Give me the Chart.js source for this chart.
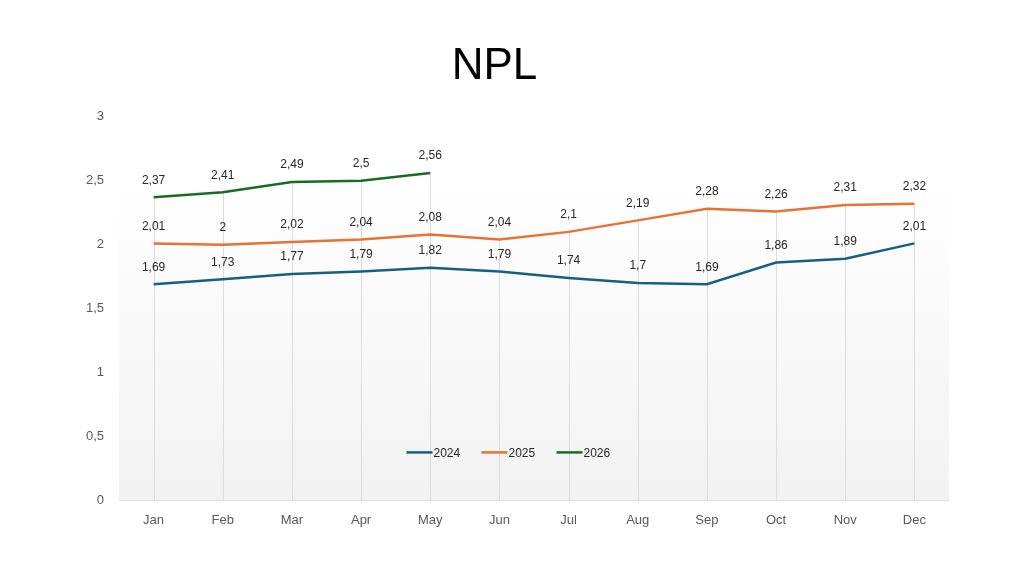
<!DOCTYPE html>
<html>
<head>
<meta charset="utf-8">
<script src="https://cdn.jsdelivr.net/npm/chart.js@4/dist/chart.umd.min.js"></script>
<style>
    html, body { margin: 0; padding: 0; background: #ffffff; }
    #wrap { width: 1024px; height: 585px; }
</style>
</head>
<body>
<div id="wrap"><canvas id="nplChart"></canvas></div>
<script>
// --- Data ---
const months = ['Jan', 'Feb', 'Mar', 'Apr', 'May', 'Jun', 'Jul', 'Aug', 'Sep', 'Oct', 'Nov', 'Dec'];
const npl2024 = [1.69, 1.73, 1.77, 1.79, 1.82, 1.79, 1.74, 1.70, 1.69, 1.86, 1.89, 2.01];
const npl2025 = [2.01, 2.00, 2.02, 2.04, 2.08, 2.04, 2.10, 2.19, 2.28, 2.26, 2.31, 2.32];
const npl2026 = [2.37, 2.41, 2.49, 2.50, 2.56, null, null, null, null, null, null, null];
const yTicks = [0, 0.5, 1, 1.5, 2, 2.5, 3];

const FONT = "'Liberation Sans', Arial, sans-serif";
const fmt = v => String(v).replace('.', ',');

// Plot area background: white fading to light grey
const bgPlugin = {
    id: 'plotBg',
    beforeDraw(chart) {
        const { ctx, chartArea: a } = chart;
        const top = a.top + (a.bottom - a.top) * 0.17;
        const g = ctx.createLinearGradient(0, top, 0, a.bottom);
        g.addColorStop(0, '#ffffff');
        g.addColorStop(1, '#f2f2f2');
        ctx.save();
        ctx.fillStyle = g;
        ctx.fillRect(a.left, top, a.right - a.left, a.bottom - top);
        ctx.restore();
    }
};

// Drop lines from highest point to the category axis
const dropLines = {
    id: 'dropLines',
    beforeDatasetsDraw(chart) {
        const { ctx, chartArea: a, scales } = chart;
        ctx.save();
        ctx.strokeStyle = '#dcdcdc';
        ctx.lineWidth = 1;
        months.forEach((m, i) => {
            const vals = chart.data.datasets.map(d => d.data[i]).filter(v => v != null);
            const x = Math.round(scales.x.getPixelForValue(i)) + 0.5;
            const y = scales.y.getPixelForValue(Math.max(...vals));
            ctx.beginPath();
            ctx.moveTo(x, y);
            ctx.lineTo(x, a.bottom);
            ctx.stroke();
        });
        ctx.restore();
    }
};

// Value labels above each point
const valueLabels = {
    id: 'valueLabels',
    afterDatasetsDraw(chart) {
        const { ctx } = chart;
        ctx.save();
        ctx.font = '12px ' + FONT;
        ctx.fillStyle = '#262626';
        ctx.textAlign = 'center';
        ctx.textBaseline = 'middle';
        chart.data.datasets.forEach((ds, di) => {
            chart.getDatasetMeta(di).data.forEach((pt, i) => {
                const v = ds.data[i];
                if (v == null) return;
                ctx.fillText(fmt(v), pt.x, pt.y - 17);
            });
        });
        ctx.restore();
    }
};

// Legend inside the plot, near the bottom
const innerLegend = {
    id: 'innerLegend',
    afterDraw(chart) {
        const { ctx, chartArea: a } = chart;
        const sets = chart.data.datasets;
        const step = 75;
        const startX = (a.left + a.right) / 2 - (sets.length * step) / 2 - 15;
        const y = a.bottom - 48;
        ctx.save();
        ctx.font = '12px ' + FONT;
        ctx.textBaseline = 'middle';
        ctx.textAlign = 'left';
        sets.forEach((ds, i) => {
            const x = startX + i * step;
            ctx.strokeStyle = ds.borderColor;
            ctx.lineWidth = 2.5;
            ctx.beginPath();
            ctx.moveTo(x, y);
            ctx.lineTo(x + 26, y);
            ctx.stroke();
            ctx.fillStyle = '#262626';
            ctx.fillText(ds.label, x + 27, y + 1);
        });
        ctx.restore();
    }
};

const ctx = document.getElementById('nplChart').getContext('2d');

new Chart(ctx, {
    type: 'line',
    data: {
        labels: months,
        datasets: [
            { label: '2024', data: npl2024, borderColor: '#156082', backgroundColor: '#156082' },
            { label: '2025', data: npl2025, borderColor: '#E97132', backgroundColor: '#E97132' },
            { label: '2026', data: npl2026, borderColor: '#196B24', backgroundColor: '#196B24' }
        ].map(d => Object.assign(d, { borderWidth: 2.5, pointRadius: 0, tension: 0, spanGaps: false }))
    },
    options: {
        responsive: true,
        maintainAspectRatio: false,
        animation: false,
        layout: {
            padding: { left: 40, right: 75, top: 0, bottom: 53 }
        },
        plugins: {
            legend: { display: false },
            tooltip: { enabled: false },
            title: {
                display: true,
                text: 'NPL',
                color: '#000000',
                font: { family: FONT, size: 44, weight: 'normal' },
                padding: { top: 40, bottom: 24 }
            }
        },
        scales: {
            y: {
                min: 0,
                max: 3,
                afterBuildTicks: s => { s.ticks = yTicks.map(v => ({ value: v })); },
                afterFit: s => { s.width = 79; },
                grid: { display: false },
                border: { display: false },
                ticks: {
                    callback: v => fmt(v),
                    color: '#595959',
                    padding: 7,
                    font: { family: FONT, size: 13 }
                }
            },
            x: {
                offset: true,
                grid: { display: false },
                border: { display: true, color: '#e3e3e3' },
                ticks: {
                    color: '#595959',
                    padding: 4,
                    font: { family: FONT, size: 13 }
                }
            }
        }
    },
    plugins: [bgPlugin, dropLines, valueLabels, innerLegend]
});
</script>
</body>
</html>
